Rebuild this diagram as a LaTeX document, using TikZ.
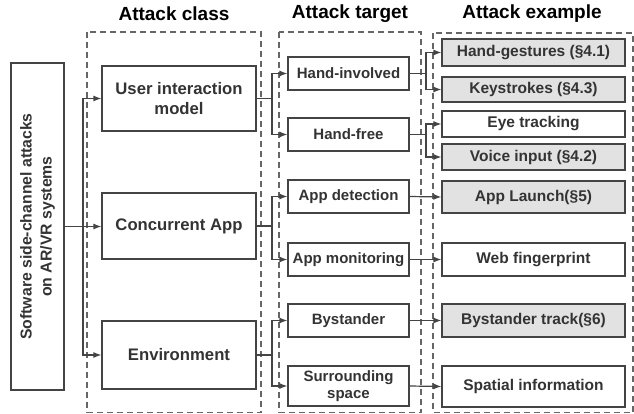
\documentclass[tikz,border=0pt]{standalone}
\usepackage{fontspec}
\setmainfont{Liberation Sans}
\usetikzlibrary{arrows.meta}
\definecolor{lc}{HTML}{444444}
\definecolor{dc}{HTML}{666666}
\definecolor{tc}{HTML}{333333}
\definecolor{gf}{HTML}{E2E2E2}
\tikzset{
  box/.style={draw=lc, line width=1.2pt, rectangle, inner sep=1pt, align=center, text=tc, font=\bfseries},
  c1/.style={box, minimum width=154pt, font=\bfseries\fontsize{16.7}{20.5}\selectfont},
  c2/.style={box, minimum width=121pt, minimum height=33pt, font=\bfseries\fontsize{15}{17.5}\selectfont},
  c3/.style={box, minimum width=183pt, font=\bfseries\fontsize{15.5}{18}\selectfont},
  shade/.style={fill=gf},
  dbox/.style={draw=dc, line width=1.4pt, dash pattern=on 6pt off 4pt},
  head/.style={font=\bfseries\fontsize{19}{22}\selectfont, text=black},
  conn/.style={draw=lc, line width=1.2pt},
  arr/.style={conn, -{Latex[length=8pt,width=6pt]}}
}
\begin{document}
\begin{tikzpicture}[x=1pt,y=-1pt]
\useasboundingbox (0,0) rectangle (634,414);
% dashed columns
\draw[dbox] (87,32) rectangle (261,412.5);
\draw[dbox] (279,32) rectangle (421,412.5);
\draw[dbox] (433,33) rectangle (633,412.5);
% headings
\node[head] (h1) at (174,14) {Attack class};
\node[head] (h2) at (350,14) {Attack target};
\node[head] (h3) at (532,14) {Attack example};
% root
\node[box, minimum width=327pt, minimum height=53pt, rotate=90, font=\bfseries\fontsize{15.8}{20}\selectfont] (root) at (37.5,226.5) {Software side-channel attacks\\on AR/VR systems};
% column 1
\node[c1, minimum height=65pt] (uim) at (179,98.5) {User interaction\\model};
\node[c1, minimum height=66pt] (ca) at (179,226) {Concurrent App};
\node[c1, minimum height=68pt] (env) at (179,355) {Environment};
% column 2
\node[c2] (hi) at (348.5,73.5) {Hand-involved};
\node[c2] (hf) at (348.5,134.5) {Hand-free};
\node[c2] (ad) at (348.5,196.5) {App detection};
\node[c2] (am) at (348.5,259.5) {App monitoring};
\node[c2] (by) at (348.5,320.5) {Bystander};
\node[c2, minimum height=40pt] (ss) at (348.5,386) {Surrounding\\space};
% column 3
\node[c3, shade, minimum height=27pt] (hg) at (533.5,52.5) {Hand-gestures (§4.1)};
\node[c3, shade, minimum height=25pt] (ks) at (533.5,89.5) {Keystrokes (§4.3)};
\node[c3, minimum height=26pt] (et) at (533.5,124) {Eye tracking};
\node[c3, shade, minimum height=26pt] (vi) at (533.5,157) {Voice input (§4.2)};
\node[c3, shade, minimum height=32pt] (al) at (533.5,197) {App Launch(§5)};
\node[c3, minimum height=33pt] (wf) at (533.5,259.5) {Web fingerprint};
\node[c3, shade, minimum height=33pt] (bt) at (533.5,320.5) {Bystander track(§6)};
\node[c3, minimum height=41pt] (si) at (533.5,386.5) {Spatial information};
% root connectors
\coordinate (j0) at (83,226.5);
\draw[arr] (root.south) -- (ca.west |- root.south);
\draw[arr] (j0) |- (uim.west);
\draw[arr] (j0) |- (env.west);
% col1 -> col2
\coordinate (j1) at (272,98.5);
\coordinate (j2) at (272,226);
\coordinate (j3) at (272,355);
\draw[conn] (uim.east) -- (j1);
\draw[arr] (j1) |- (hi.west);
\draw[arr] (j1) |- (hf.west);
\draw[conn] (ca.east) -- (j2);
\draw[arr] (j2) |- (ad.west);
\draw[arr] (j2) |- (am.west);
\draw[conn] (env.east) -- (j3);
\draw[arr] (j3) |- (by.west);
\draw[arr] (j3) |- (ss.west);
% col2 -> col3
\coordinate (k1) at (426,73.5);
\coordinate (k2) at (426,134.5);
\draw[conn] (hi.east) -- (k1);
\draw[arr] (k1) |- (hg.west);
\draw[arr] (k1) |- (ks.west);
\draw[conn] (hf.east) -- (k2);
\draw[arr] (k2) |- (et.west);
\draw[arr] (k2) |- (vi.west);
\draw[arr] (ad.east) -- (al.west);
\draw[arr] (am.east) -- (wf.west);
\draw[arr] (by.east) -- (bt.west);
\draw[arr] (ss.east) -- (si.west);
\end{tikzpicture}
\end{document}
